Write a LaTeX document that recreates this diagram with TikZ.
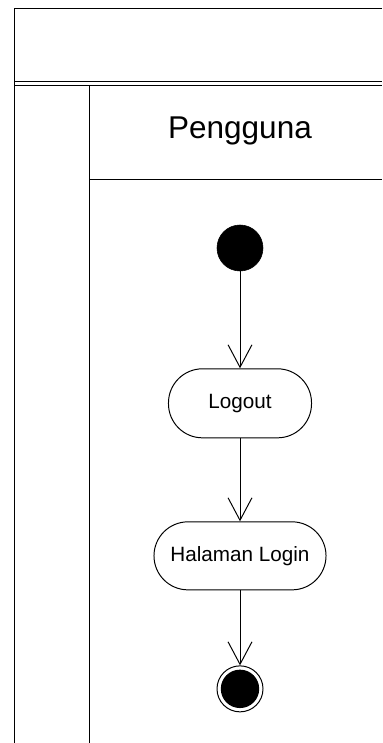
\documentclass[tikz,border=0pt]{standalone}
\usepackage{fontspec}
\setmainfont{Liberation Sans}
\usetikzlibrary{positioning, arrows.meta}

\begin{document}
\begin{tikzpicture}[
        x=0.025cm, y=-0.025cm,
        lane/.style={line width=0.7pt},
        action/.style={draw, line width=0.7pt, rectangle, rounded corners=0.85cm,
            minimum width=3.575cm, minimum height=1.725cm, inner sep=0pt,
            font=\fontsize{14.7}{17}\selectfont},
        startstate/.style={draw, circle, fill=black, minimum size=1.15cm, inner sep=0pt},
        endstate/.style={draw, circle, line width=0.7pt, minimum size=1.15cm, inner sep=0pt,
            path picture={\fill (path picture bounding box.center) circle (0.48cm);}},
        flow/.style={line width=0.7pt, -{Straight Barb[length=16pt, width=17pt, line width=0.7pt]}}
        ]
        \useasboundingbox (0,0) rectangle (382,743);

        % Swimlane frame
        \draw[lane] (382,8) -- (14,8) -- (14,743);
        \draw[lane] (14,81) -- (382,81);
        \draw[lane] (14,85) -- (382,85);
        \draw[lane] (89,85) -- (89,743);
        \draw[lane] (89,179) -- (382,179);
        \node (pengguna) at (240,131) {\fontsize{22.4}{26}\selectfont Pengguna};

        % Nodes
        \node[startstate] (start) at (240,248) {};
        \node[action] (logout) [below=2.425cm of start] {Logout};
        \node[action, minimum width=4.3cm, minimum height=1.7cm] (login) [below=2.075cm of logout] {Halaman Login};
        \node[endstate] (end) [below=1.875cm of login] {};

        % Arrows
        \draw[flow] (start) -- (logout);
        \draw[flow] (logout) -- (login);
        \draw[flow] (login) -- (end);
    \end{tikzpicture}
\end{document}
